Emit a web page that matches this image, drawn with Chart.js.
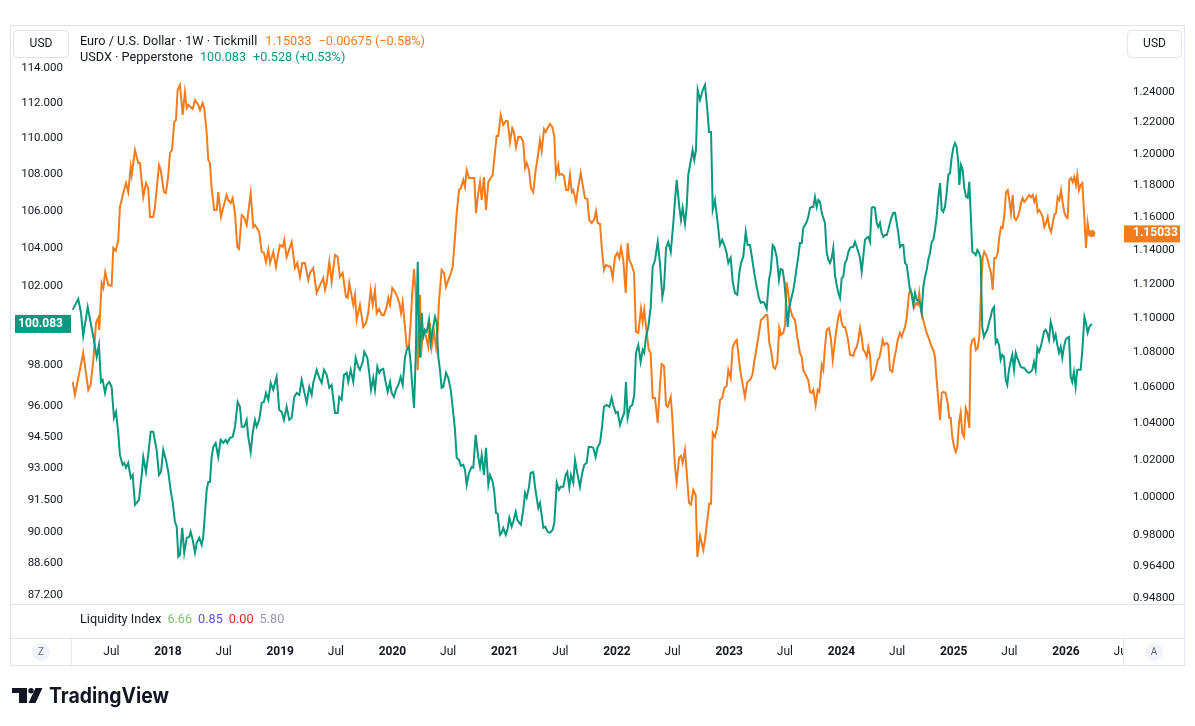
<!DOCTYPE html>
<html>
<head>
<meta charset="utf-8">
<script src="https://cdn.jsdelivr.net/npm/chart.js@4.4.1/dist/chart.umd.min.js"></script>
<style>
  html, body { margin: 0; padding: 0; background: #ffffff; }
  #wrap { position: relative; width: 1195px; height: 726px; }
</style>
</head>
<body>
<div id="wrap"><canvas id="chart" width="1195" height="726"></canvas></div>
<script>
// weekly closes: [decimal year, price]
const eurusd = [
  [2017.151,1.0632],[2017.171,1.0558],[2017.245,1.0796],[2017.29,1.0586],[2017.311,1.0614],[2017.335,1.0756],[2017.359,1.0970],[2017.379,1.0999],[2017.388,1.0929],[2017.409,1.1204],
  [2017.424,1.1175],[2017.441,1.1270],[2017.468,1.1193],[2017.498,1.1187],[2017.513,1.1415],[2017.534,1.1397],[2017.557,1.1463],[2017.572,1.1665],[2017.602,1.1752],[2017.626,1.1815],
  [2017.646,1.1758],[2017.668,1.1916],[2017.677,1.1866],[2017.706,1.2024],[2017.735,1.1941],[2017.75,1.1941],[2017.78,1.1727],[2017.804,1.1815],[2017.824,1.1783],[2017.84,1.1604],
  [2017.869,1.1604],[2017.884,1.1665],[2017.92,1.1928],[2017.935,1.1897],[2017.964,1.1758],[2017.982,1.1752],[2018.003,1.1866],[2018.018,1.2005],[2018.036,1.2024],[2018.056,1.2204],
  [2018.071,1.2217],[2018.086,1.2413],[2018.107,1.2446],[2018.131,1.2250],[2018.151,1.2400],[2018.167,1.2295],[2018.181,1.2315],[2018.22,1.2289],[2018.241,1.2347],[2018.27,1.2315],
  [2018.285,1.2282],[2018.309,1.2327],[2018.323,1.2295],[2018.345,1.2133],[2018.359,1.1960],[2018.374,1.1941],[2018.389,1.1783],[2018.412,1.1647],[2018.434,1.1647],[2018.448,1.1758],
  [2018.472,1.1604],[2018.493,1.1665],[2018.523,1.1740],[2018.537,1.1709],[2018.559,1.1690],[2018.576,1.1721],[2018.597,1.1628],[2018.617,1.1421],[2018.633,1.1409],[2018.657,1.1616],
  [2018.677,1.1604],[2018.701,1.1555],[2018.737,1.1752],[2018.76,1.1542],[2018.775,1.1555],[2018.813,1.1512],[2018.835,1.1391],[2018.855,1.1385],[2018.873,1.1330],[2018.894,1.1403],
  [2018.909,1.1324],[2018.938,1.1391],[2018.962,1.1300],[2018.983,1.1385],[2018.998,1.1433],[2019.022,1.1421],[2019.036,1.1463],[2019.057,1.1360],[2019.078,1.1403],[2019.102,1.1451],
  [2019.131,1.1294],[2019.152,1.1324],[2019.176,1.1240],[2019.196,1.1324],[2019.22,1.1324],[2019.25,1.1222],[2019.265,1.1264],[2019.294,1.1294],[2019.325,1.1145],[2019.354,1.1192],
  [2019.384,1.1234],[2019.399,1.1163],[2019.414,1.1204],[2019.437,1.1330],[2019.458,1.1210],[2019.488,1.1373],[2019.512,1.1360],[2019.532,1.1240],[2019.556,1.1264],[2019.586,1.1122],
  [2019.601,1.1116],[2019.615,1.1204],[2019.651,1.1075],[2019.666,1.1133],[2019.681,1.0987],[2019.71,1.1075],[2019.74,1.0946],[2019.764,1.0970],[2019.784,1.1027],[2019.806,1.1163],
  [2019.824,1.1075],[2019.844,1.1163],[2019.859,1.1027],[2019.88,1.1051],[2019.904,1.1016],[2019.924,1.1016],[2019.948,1.1063],[2019.963,1.1116],[2019.978,1.1075],[2019.998,1.1175],
  [2020.022,1.1151],[2020.043,1.1122],[2020.061,1.1086],[2020.076,1.1027],[2020.091,1.1092],[2020.111,1.0946],[2020.127,1.0830],[2020.147,1.0842],[2020.162,1.0970],[2020.176,1.1145],
  [2020.192,1.1288],[2020.207,1.1145],[2020.216,1.0888],[2020.225,1.0699],[2020.236,1.0946],[2020.245,1.1133],[2020.254,1.0773],[2020.269,1.0917],[2020.283,1.0929],[2020.299,1.0888],
  [2020.319,1.0830],[2020.334,1.0970],[2020.349,1.0830],[2020.37,1.0917],[2020.388,1.0830],[2020.403,1.0929],[2020.414,1.1092],[2020.438,1.1282],[2020.459,1.1264],[2020.477,1.1181],
  [2020.497,1.1222],[2020.521,1.1264],[2020.536,1.1300],[2020.557,1.1481],[2020.572,1.1628],[2020.593,1.1771],[2020.61,1.1783],[2020.631,1.1834],[2020.646,1.1790],[2020.661,1.1897],
  [2020.682,1.1847],[2020.706,1.1847],[2020.729,1.1847],[2020.744,1.1628],[2020.764,1.1752],[2020.78,1.1821],[2020.795,1.1709],[2020.815,1.1853],[2020.833,1.1647],[2020.854,1.1821],
  [2020.875,1.1847],[2020.893,1.1866],[2020.904,1.1948],[2020.928,1.2114],[2020.943,1.2114],[2020.964,1.2250],[2020.987,1.2185],[2021.009,1.2211],[2021.026,1.2211],[2021.047,1.2075],
  [2021.067,1.2165],[2021.082,1.2139],[2021.1,1.2043],[2021.121,1.2107],[2021.145,1.2107],[2021.165,1.2075],[2021.181,1.1910],[2021.196,1.1941],[2021.216,1.1897],[2021.234,1.1783],
  [2021.254,1.1758],[2021.276,1.1897],[2021.294,1.1979],[2021.314,1.2088],[2021.329,1.2018],[2021.35,1.2159],[2021.365,1.2139],[2021.383,1.2165],[2021.403,1.2191],[2021.424,1.2172],
  [2021.442,1.2107],[2021.457,1.1866],[2021.477,1.1928],[2021.486,1.1866],[2021.507,1.1872],[2021.528,1.1859],[2021.546,1.1771],[2021.566,1.1771],[2021.581,1.1866],[2021.597,1.1758],
  [2021.611,1.1771],[2021.635,1.1697],[2021.655,1.1790],[2021.677,1.1878],[2021.695,1.1802],[2021.715,1.1721],[2021.736,1.1715],[2021.753,1.1585],[2021.775,1.1567],[2021.798,1.1591],
  [2021.813,1.1641],[2021.828,1.1567],[2021.849,1.1561],[2021.864,1.1421],[2021.884,1.1282],[2021.902,1.1312],[2021.923,1.1306],[2021.944,1.1300],[2021.962,1.1234],[2021.982,1.1360],
  [2022.003,1.1385],[2022.021,1.1354],[2022.036,1.1415],[2022.056,1.1342],[2022.078,1.1145],[2022.095,1.1445],[2022.11,1.1342],[2022.131,1.1312],[2022.152,1.1264],[2022.169,1.0917],
  [2022.19,1.0911],[2022.214,1.1051],[2022.229,1.0975],[2022.243,1.1045],[2022.265,1.0911],[2022.283,1.0813],[2022.3,1.0796],[2022.318,1.0541],[2022.339,1.0541],[2022.363,1.0402],
  [2022.383,1.0614],[2022.398,1.0733],[2022.419,1.0722],[2022.437,1.0502],[2022.452,1.0491],[2022.479,1.0547],[2022.493,1.0430],[2022.517,1.0162],[2022.532,1.0081],[2022.553,1.0211],
  [2022.57,1.0222],[2022.585,1.0184],[2022.606,1.0254],[2022.621,1.0135],[2022.642,0.9970],[2022.659,0.9960],[2022.68,1.0039],[2022.701,1.0012],[2022.716,0.9688],[2022.74,0.9797],
  [2022.755,0.9760],[2022.769,0.9724],[2022.784,0.9776],[2022.805,0.9880],[2022.822,0.9965],[2022.838,0.9965],[2022.853,1.0347],[2022.873,1.0325],[2022.894,1.0380],[2022.918,1.0530],
  [2022.938,1.0541],[2022.956,1.0597],[2022.977,1.0608],[2022.992,1.0699],[2023.013,1.0653],[2023.031,1.0830],[2023.051,1.0859],[2023.067,1.0871],[2023.1,1.0688],[2023.14,1.0547],
  [2023.161,1.0631],[2023.185,1.0642],[2023.206,1.0670],[2023.223,1.0745],[2023.245,1.0830],[2023.265,1.0911],[2023.283,1.0987],[2023.304,1.0999],[2023.325,1.1016],[2023.339,1.1016],
  [2023.357,1.0854],[2023.372,1.0813],[2023.393,1.0716],[2023.408,1.0705],[2023.428,1.0739],[2023.446,1.0940],[2023.461,1.0900],[2023.482,1.0911],[2023.497,1.0958],[2023.512,1.1210],
  [2023.526,1.1145],[2023.541,1.1057],[2023.565,1.1004],[2023.586,1.0987],[2023.606,1.0888],[2023.63,1.0796],[2023.646,1.0773],[2023.66,1.0699],[2023.681,1.0670],[2023.704,1.0642],
  [2023.72,1.0575],[2023.735,1.0569],[2023.749,1.0586],[2023.77,1.0502],[2023.788,1.0586],[2023.802,1.0575],[2023.824,1.0727],[2023.838,1.0699],[2023.853,1.0830],[2023.868,1.0929],
  [2023.889,1.0940],[2023.907,1.0871],[2023.922,1.0756],[2023.936,1.0830],[2023.951,1.0911],[2023.972,1.1004],[2023.987,1.1033],[2024.002,1.0970],[2024.016,1.0946],[2024.031,1.0946],
  [2024.046,1.0911],[2024.061,1.0859],[2024.076,1.0784],[2024.091,1.0784],[2024.105,1.0779],[2024.12,1.0813],[2024.136,1.0830],[2024.15,1.0871],[2024.165,1.0940],[2024.18,1.0888],
  [2024.194,1.0813],[2024.209,1.0802],[2024.225,1.0773],[2024.239,1.0830],[2024.254,1.0784],[2024.269,1.0642],[2024.283,1.0653],[2024.305,1.0699],[2024.323,1.0756],[2024.337,1.0767],
  [2024.352,1.0813],[2024.367,1.0871],[2024.382,1.0842],[2024.403,1.0854],[2024.417,1.0842],[2024.432,1.0699],[2024.453,1.0688],[2024.468,1.0756],[2024.486,1.0813],[2024.501,1.0871],
  [2024.521,1.0911],[2024.536,1.0888],[2024.551,1.0917],[2024.566,1.0946],[2024.581,1.0999],[2024.602,1.1145],[2024.617,1.1163],[2024.634,1.1104],[2024.649,1.1063],[2024.664,1.1086],
  [2024.679,1.1075],[2024.693,1.1145],[2024.708,1.1045],[2024.724,1.0999],[2024.744,1.0946],[2024.759,1.0911],[2024.773,1.0888],[2024.789,1.0859],[2024.804,1.0830],[2024.818,1.0813],
  [2024.833,1.0773],[2024.848,1.0642],[2024.863,1.0530],[2024.878,1.0419],[2024.893,1.0569],[2024.907,1.0575],[2024.928,1.0569],[2024.946,1.0513],[2024.961,1.0430],[2024.973,1.0430],
  [2024.987,1.0325],[2025.005,1.0265],[2025.018,1.0243],[2025.032,1.0270],[2025.047,1.0402],[2025.062,1.0458],[2025.076,1.0347],[2025.092,1.0325],[2025.107,1.0485],[2025.121,1.0458],
  [2025.139,1.0375],[2025.151,1.0830],[2025.166,1.0871],[2025.183,1.0877],[2025.198,1.0813],[2025.214,1.0825],[2025.228,1.0888],[2025.243,1.1163],[2025.258,1.1354],[2025.272,1.1391],
  [2025.288,1.1373],[2025.303,1.1342],[2025.317,1.1300],[2025.332,1.1264],[2025.347,1.1163],[2025.362,1.1354],[2025.377,1.1354],[2025.392,1.1385],[2025.406,1.1481],[2025.421,1.1542],
  [2025.436,1.1536],[2025.451,1.1616],[2025.466,1.1758],[2025.481,1.1771],[2025.495,1.1709],[2025.51,1.1628],[2025.525,1.1740],[2025.54,1.1597],[2025.555,1.1585],[2025.57,1.1604],
  [2025.584,1.1634],[2025.599,1.1690],[2025.614,1.1721],[2025.629,1.1697],[2025.644,1.1709],[2025.659,1.1727],[2025.673,1.1740],[2025.688,1.1727],[2025.704,1.1740],[2025.718,1.1697],
  [2025.733,1.1727],[2025.748,1.1634],[2025.762,1.1647],[2025.778,1.1628],[2025.793,1.1604],[2025.807,1.1542],[2025.822,1.1567],[2025.837,1.1604],[2025.851,1.1542],[2025.867,1.1512],
  [2025.882,1.1567],[2025.896,1.1616],[2025.911,1.1628],[2025.926,1.1727],[2025.941,1.1709],[2025.956,1.1771],[2025.971,1.1690],[2025.985,1.1634],[2026.0,1.1604],[2026.015,1.1597],
  [2026.03,1.1834],[2026.045,1.1847],[2026.06,1.1821],[2026.074,1.1853],[2026.089,1.1802],[2026.101,1.1866],[2026.116,1.1771],[2026.131,1.1802],[2026.146,1.1815],[2026.164,1.1597],
  [2026.178,1.1415],[2026.193,1.1567],[2026.208,1.1494],[2026.23,1.15033]
];

const usdx = [
  [2017.151,100.80],[2017.201,101.36],[2017.225,100.65],[2017.245,99.48],[2017.285,100.95],[2017.311,100.14],[2017.335,99.42],[2017.35,98.92],[2017.365,98.42],[2017.385,99.02],
  [2017.403,97.17],[2017.418,97.27],[2017.439,96.63],[2017.454,97.02],[2017.477,97.17],[2017.498,96.93],[2017.519,95.41],[2017.537,95.70],[2017.557,94.69],[2017.572,93.63],
  [2017.596,93.16],[2017.61,93.25],[2017.626,93.02],[2017.646,93.25],[2017.668,92.54],[2017.686,92.68],[2017.706,91.28],[2017.721,91.37],[2017.742,91.51],[2017.766,92.68],
  [2017.78,93.53],[2017.804,92.82],[2017.824,93.63],[2017.846,94.74],[2017.869,94.74],[2017.899,93.87],[2017.92,92.68],[2017.938,92.82],[2017.958,93.87],[2017.982,93.39],
  [2018.003,92.82],[2018.027,91.84],[2018.042,91.42],[2018.062,90.50],[2018.078,90.27],[2018.092,88.90],[2018.107,88.99],[2018.127,90.22],[2018.145,89.08],[2018.167,89.76],
  [2018.19,89.81],[2018.202,90.04],[2018.22,89.67],[2018.241,89.08],[2018.256,89.53],[2018.279,89.76],[2018.3,89.44],[2018.314,89.81],[2018.33,90.91],[2018.345,91.98],
  [2018.359,92.35],[2018.374,92.35],[2018.389,93.53],[2018.404,94.01],[2018.425,94.20],[2018.448,93.53],[2018.469,94.35],[2018.493,94.20],[2018.514,94.35],[2018.528,94.20],
  [2018.552,94.45],[2018.576,94.49],[2018.597,94.98],[2018.621,96.19],[2018.641,95.95],[2018.657,94.98],[2018.68,94.98],[2018.701,95.31],[2018.715,94.49],[2018.737,93.77],
  [2018.755,94.69],[2018.775,95.31],[2018.79,94.98],[2018.813,95.31],[2018.835,96.14],[2018.855,96.19],[2018.873,96.63],[2018.894,96.29],[2018.915,97.12],[2018.938,96.78],
  [2018.968,97.42],[2018.991,95.80],[2019.013,95.70],[2019.033,95.31],[2019.057,95.95],[2019.081,95.31],[2019.102,95.41],[2019.125,96.43],[2019.147,96.63],[2019.17,96.53],
  [2019.191,97.27],[2019.214,96.68],[2019.236,96.14],[2019.259,96.93],[2019.28,96.53],[2019.294,97.12],[2019.325,97.77],[2019.348,97.37],[2019.369,97.12],[2019.39,97.77],
  [2019.414,97.52],[2019.437,96.88],[2019.458,97.02],[2019.488,95.65],[2019.512,95.65],[2019.526,96.43],[2019.547,96.29],[2019.568,97.52],[2019.592,97.62],[2019.606,97.17],
  [2019.628,97.77],[2019.651,97.17],[2019.672,98.37],[2019.695,97.92],[2019.71,97.77],[2019.735,98.17],[2019.749,98.67],[2019.776,98.37],[2019.793,97.62],[2019.809,96.78],
  [2019.829,97.37],[2019.844,96.78],[2019.865,97.92],[2019.882,97.62],[2019.898,97.77],[2019.918,97.82],[2019.939,97.17],[2019.957,96.68],[2019.978,97.17],[2019.993,96.63],
  [2020.013,96.43],[2020.031,96.78],[2020.052,97.02],[2020.073,97.42],[2020.091,97.02],[2020.111,98.37],[2020.127,98.77],[2020.147,98.92],[2020.162,98.12],[2020.176,97.02],
  [2020.192,95.90],[2020.207,98.42],[2020.225,103.29],[2020.236,100.14],[2020.245,98.37],[2020.26,100.65],[2020.274,99.42],[2020.29,99.78],[2020.305,99.68],[2020.325,100.29],
  [2020.34,99.12],[2020.358,99.78],[2020.379,100.44],[2020.394,100.14],[2020.408,98.42],[2020.423,97.77],[2020.438,96.88],[2020.453,96.93],[2020.477,97.62],[2020.497,97.37],
  [2020.519,96.78],[2020.536,95.95],[2020.557,94.83],[2020.572,93.49],[2020.593,93.39],[2020.61,93.11],[2020.631,93.16],[2020.646,92.92],[2020.661,92.22],[2020.682,92.78],
  [2020.706,93.06],[2020.72,93.02],[2020.741,94.59],[2020.764,93.53],[2020.78,93.06],[2020.795,93.63],[2020.815,92.68],[2020.833,93.97],[2020.854,92.22],[2020.869,92.68],
  [2020.893,92.35],[2020.907,91.89],[2020.922,90.91],[2020.937,90.87],[2020.958,89.90],[2020.973,89.99],[2020.987,90.22],[2021.009,89.90],[2021.026,90.18],[2021.041,90.68],
  [2021.062,90.27],[2021.076,90.50],[2021.098,90.96],[2021.112,90.59],[2021.13,90.45],[2021.145,90.36],[2021.165,91.05],[2021.181,91.84],[2021.196,91.61],[2021.216,92.12],
  [2021.231,92.78],[2021.254,92.82],[2021.276,91.89],[2021.299,91.14],[2021.314,91.37],[2021.329,90.82],[2021.344,90.22],[2021.36,90.27],[2021.383,90.04],[2021.403,89.99],
  [2021.427,90.13],[2021.442,90.45],[2021.463,92.31],[2021.483,91.98],[2021.499,92.12],[2021.522,92.12],[2021.543,92.68],[2021.557,92.82],[2021.575,92.08],[2021.59,92.68],
  [2021.611,92.31],[2021.626,93.39],[2021.646,92.78],[2021.67,92.12],[2021.691,92.78],[2021.709,93.16],[2021.73,93.25],[2021.748,94.01],[2021.768,94.01],[2021.789,93.97],
  [2021.81,93.53],[2021.828,94.01],[2021.849,94.20],[2021.869,95.07],[2021.884,95.95],[2021.908,96.04],[2021.932,95.95],[2021.953,96.39],[2021.967,96.04],[2021.989,95.65],
  [2022.006,95.70],[2022.027,95.07],[2022.047,95.41],[2022.065,95.65],[2022.08,97.17],[2022.095,95.41],[2022.116,95.95],[2022.136,96.04],[2022.154,96.53],[2022.169,98.62],
  [2022.19,99.02],[2022.211,98.17],[2022.229,98.77],[2022.243,98.62],[2022.258,99.42],[2022.279,99.93],[2022.3,100.90],[2022.318,103.03],[2022.339,103.39],[2022.363,104.35],
  [2022.383,103.23],[2022.404,101.46],[2022.419,101.93],[2022.437,104.03],[2022.457,104.35],[2022.479,103.81],[2022.502,105.36],[2022.517,106.60],[2022.532,107.69],[2022.555,106.22],
  [2022.57,105.52],[2022.585,106.17],[2022.606,105.31],[2022.621,106.22],[2022.635,107.96],[2022.659,108.79],[2022.674,109.34],[2022.689,108.79],[2022.704,109.34],[2022.719,112.73],
  [2022.74,112.16],[2022.764,112.73],[2022.784,113.02],[2022.805,111.59],[2022.82,110.35],[2022.838,110.35],[2022.853,106.06],[2022.873,106.60],[2022.894,105.52],[2022.918,104.18],
  [2022.938,104.45],[2022.956,104.18],[2022.977,103.76],[2022.992,103.23],[2023.013,103.50],[2023.031,102.25],[2023.051,101.67],[2023.072,101.57],[2023.09,102.71],[2023.105,103.23],
  [2023.125,103.55],[2023.147,104.87],[2023.164,104.18],[2023.185,104.18],[2023.206,103.39],[2023.223,102.71],[2023.245,101.98],[2023.265,101.41],[2023.28,101.16],[2023.295,101.21],
  [2023.312,101.16],[2023.334,100.85],[2023.354,102.35],[2023.369,102.77],[2023.387,104.18],[2023.401,104.08],[2023.423,103.55],[2023.443,102.35],[2023.458,102.92],[2023.476,102.87],
  [2023.491,102.25],[2023.506,101.21],[2023.521,99.93],[2023.535,100.95],[2023.55,101.31],[2023.571,101.83],[2023.586,102.35],[2023.601,103.03],[2023.615,103.55],[2023.63,104.29],
  [2023.646,104.29],[2023.66,105.09],[2023.675,105.25],[2023.69,105.41],[2023.704,105.68],[2023.72,106.17],[2023.735,106.22],[2023.749,106.22],[2023.764,106.76],[2023.779,106.22],
  [2023.794,106.60],[2023.809,106.49],[2023.824,105.90],[2023.838,105.63],[2023.853,105.36],[2023.868,103.81],[2023.883,103.39],[2023.898,103.23],[2023.913,103.50],[2023.927,104.03],
  [2023.942,102.61],[2023.957,102.09],[2023.972,101.67],[2023.987,101.41],[2024.002,102.45],[2024.016,102.51],[2024.031,103.23],[2024.046,103.39],[2024.061,103.81],[2024.076,104.03],
  [2024.091,104.08],[2024.105,104.08],[2024.12,104.35],[2024.136,104.08],[2024.15,103.81],[2024.165,103.50],[2024.18,102.77],[2024.194,103.55],[2024.209,104.45],[2024.225,104.56],
  [2024.239,104.61],[2024.254,104.35],[2024.269,106.17],[2024.283,106.22],[2024.298,106.17],[2024.314,105.36],[2024.328,105.14],[2024.343,105.36],[2024.358,104.82],[2024.373,104.61],
  [2024.388,104.71],[2024.403,104.71],[2024.417,104.98],[2024.432,105.36],[2024.447,105.68],[2024.462,105.90],[2024.477,105.90],[2024.492,105.36],[2024.506,104.82],[2024.521,104.08],
  [2024.536,104.18],[2024.551,104.18],[2024.566,103.23],[2024.581,103.13],[2024.595,102.51],[2024.61,101.83],[2024.625,101.67],[2024.64,101.06],[2024.655,101.67],[2024.67,101.31],
  [2024.684,101.31],[2024.699,101.16],[2024.714,100.65],[2024.729,101.98],[2024.744,102.51],[2024.759,102.87],[2024.773,103.39],[2024.789,103.76],[2024.804,104.35],[2024.818,104.45],
  [2024.833,104.98],[2024.848,105.68],[2024.863,106.76],[2024.878,107.52],[2024.893,106.06],[2024.907,105.95],[2024.922,106.22],[2024.937,106.98],[2024.952,107.96],[2024.967,108.07],
  [2024.982,108.95],[2024.996,109.45],[2025.011,109.73],[2025.026,109.51],[2025.041,108.62],[2025.05,107.41],[2025.065,108.51],[2025.08,108.24],[2025.094,107.25],[2025.11,106.76],
  [2025.125,106.71],[2025.139,107.58],[2025.151,105.90],[2025.166,103.81],[2025.181,103.76],[2025.196,103.65],[2025.21,103.92],[2025.225,103.76],[2025.24,103.50],[2025.254,99.93],
  [2025.269,99.42],[2025.285,99.63],[2025.299,99.78],[2025.314,100.14],[2025.329,100.44],[2025.343,100.80],[2025.359,100.95],[2025.374,99.12],[2025.388,99.27],[2025.403,99.02],
  [2025.418,98.27],[2025.433,98.52],[2025.448,98.42],[2025.463,97.27],[2025.477,97.02],[2025.492,97.77],[2025.507,98.17],[2025.522,98.52],[2025.537,97.77],[2025.552,98.62],
  [2025.566,98.37],[2025.581,98.17],[2025.597,97.92],[2025.611,97.87],[2025.626,97.87],[2025.641,97.77],[2025.655,97.67],[2025.671,97.62],[2025.686,97.67],[2025.7,97.77],
  [2025.715,98.17],[2025.73,97.77],[2025.745,98.87],[2025.76,98.67],[2025.775,98.92],[2025.789,99.27],[2025.804,99.68],[2025.819,99.78],[2025.833,99.63],[2025.849,99.27],
  [2025.864,100.19],[2025.878,99.88],[2025.893,99.27],[2025.908,99.53],[2025.923,99.02],[2025.938,98.62],[2025.953,98.92],[2025.967,98.37],[2025.982,98.92],[2025.997,99.27],
  [2026.011,99.37],[2026.027,99.42],[2026.042,97.42],[2026.056,97.17],[2026.071,97.67],[2026.086,96.93],[2026.1,97.77],[2026.116,97.77],[2026.131,97.77],[2026.146,98.77],
  [2026.164,100.44],[2026.178,100.14],[2026.193,99.63],[2026.208,99.93],[2026.23,100.083]
];

const usdxTicks = [114, 112, 110, 108, 106, 104, 102, 100, 98, 96, 94.5, 93, 91.5, 90, 88.6, 87.2];
const eurTicks = [1.24, 1.22, 1.20, 1.18, 1.16, 1.14, 1.12, 1.10, 1.08, 1.06, 1.04, 1.02, 1.00, 0.98, 0.964, 0.948];
const timeTicks = [2017.496, 2018, 2018.496, 2019, 2019.496, 2020, 2020.496, 2021, 2021.496, 2022, 2022.496, 2023, 2023.496, 2024, 2024.496, 2025, 2025.496, 2026, 2026.496];
const liquidity = [6.66, 0.85, 0.00, 5.80];

const FONT = 'Roboto, "Noto Sans", sans-serif';
const TEXT = '#131722';
const LINE = '#e0e3eb';
const ORANGE = '#f57c1c';
const TEAL = '#089981';

function txt(ctx, s, x, y, color, font, align) {
  ctx.fillStyle = color;
  ctx.font = font;
  ctx.textAlign = align || 'left';
  ctx.textBaseline = 'middle';
  ctx.fillText(s, x, y);
  return x + ctx.measureText(s).width;
}

function roundBox(ctx, x, y, w, h, r, fill, stroke) {
  ctx.beginPath();
  ctx.roundRect(x, y, w, h, r);
  if (fill) { ctx.fillStyle = fill; ctx.fill(); }
  if (stroke) { ctx.strokeStyle = stroke; ctx.lineWidth = 1; ctx.stroke(); }
}

const paneDecor = {
  id: 'paneDecor',
  afterDraw(chart) {
    const ctx = chart.ctx;
    const yL = chart.scales.yL, yR = chart.scales.yR;
    ctx.save();

    // hide the half label past the price scale
    ctx.fillStyle = '#ffffff';
    ctx.fillRect(1124, 639, 60, 26);

    // frame and pane separators
    ctx.strokeStyle = LINE;
    ctx.lineWidth = 1;
    ctx.strokeRect(10.5, 25.5, 1174, 640);
    ctx.beginPath();
    ctx.moveTo(10, 604.5); ctx.lineTo(1185, 604.5);
    ctx.moveTo(10, 638.5); ctx.lineTo(1185, 638.5);
    ctx.moveTo(71.5, 638); ctx.lineTo(71.5, 665);
    ctx.moveTo(1123.5, 638); ctx.lineTo(1123.5, 665);
    ctx.stroke();

    // currency buttons
    roundBox(ctx, 13.5, 30.5, 55, 27, 4, '#ffffff', LINE);
    txt(ctx, 'USD', 41, 44, TEXT, '12px ' + FONT, 'center');
    roundBox(ctx, 1127.5, 30.5, 54, 27, 4, '#ffffff', LINE);
    txt(ctx, 'USD', 1154.5, 44, TEXT, '12px ' + FONT, 'center');

    // last value labels
    const lastD = usdx[usdx.length - 1][1];
    const lastE = eurusd[eurusd.length - 1][1];
    const pyL = yL.getPixelForValue(lastD);
    ctx.fillStyle = TEAL;
    ctx.fillRect(15, pyL - 9, 56, 18);
    txt(ctx, lastD.toFixed(3), 63, pyL, '#ffffff', 'bold 12px ' + FONT, 'right');
    const pyR = yR.getPixelForValue(lastE);
    ctx.fillStyle = ORANGE;
    ctx.fillRect(1124, pyR - 8, 56, 17);
    txt(ctx, lastE.toFixed(5), 1133, pyR, '#ffffff', 'bold 12px ' + FONT, 'left');

    // legend
    const lf = '12.7px ' + FONT;
    let x = txt(ctx, 'Euro / U.S. Dollar · 1W · Tickmill', 80, 42, TEXT, lf);
    x = txt(ctx, lastE.toFixed(5), x + 8, 42, ORANGE, lf);
    txt(ctx, '−0.00675 (−0.58%)', x + 7, 42, ORANGE, lf);
    x = txt(ctx, 'USDX · Pepperstone', 80, 58, TEXT, lf);
    x = txt(ctx, lastD.toFixed(3), x + 7, 58, TEAL, lf);
    txt(ctx, '+0.528 (+0.53%)', x + 7, 58, TEAL, lf);

    // liquidity pane legend
    const liqColors = ['#7fc36b', '#5b52dc', '#e0262b', '#9b97b0'];
    x = txt(ctx, 'Liquidity Index', 80, 620, TEXT, lf);
    liquidity.forEach((v, i) => {
      x = txt(ctx, v.toFixed(2), x + 6, 620, liqColors[i], lf);
    });

    // Z / A buttons
    [[41, 'Z'], [1154, 'A']].forEach(([cx, s]) => {
      ctx.beginPath();
      ctx.arc(cx, 652, 9, 0, Math.PI * 2);
      ctx.fillStyle = '#f0f3fa';
      ctx.fill();
      txt(ctx, s, cx, 652.5, '#6a6d78', '10px ' + FONT, 'center');
    });

    // TradingView logo
    ctx.fillStyle = TEXT;
    ctx.fillRect(12, 688, 15, 5);
    ctx.fillRect(19, 688, 8, 15);
    ctx.beginPath();
    ctx.arc(31, 690.7, 2.7, 0, Math.PI * 2);
    ctx.fill();
    ctx.beginPath();
    ctx.moveTo(35.5, 688); ctx.lineTo(42.5, 688); ctx.lineTo(35.5, 703); ctx.lineTo(28.5, 703);
    ctx.closePath();
    ctx.fill();
    ctx.font = 'bold 21px Inter, ' + FONT;
    ctx.textAlign = 'left';
    ctx.textBaseline = 'alphabetic';
    const w = ctx.measureText('TradingView').width;
    ctx.save();
    ctx.translate(49, 703);
    ctx.scale(120 / w, 1);
    ctx.fillText('TradingView', 0, 0);
    ctx.restore();

    ctx.restore();
  }
};

new Chart(document.getElementById('chart'), {
  type: 'line',
  data: {
    datasets: [
      {
        label: 'USDX · Pepperstone',
        data: usdx.map(p => ({ x: p[0], y: p[1] })),
        yAxisID: 'yL',
        borderColor: TEAL,
        borderWidth: 2,
        pointRadius: 0,
        tension: 0,
        order: 0
      },
      {
        label: 'Euro / U.S. Dollar',
        data: eurusd.map(p => ({ x: p[0], y: p[1] })),
        yAxisID: 'yR',
        borderColor: ORANGE,
        borderWidth: 2,
        pointRadius: c => c.dataIndex === eurusd.length - 1 ? 3.5 : 0,
        pointBackgroundColor: ORANGE,
        pointBorderWidth: 0,
        tension: 0,
        order: 1
      }
    ]
  },
  options: {
    responsive: false,
    animation: false,
    layout: { padding: { left: 10, right: 10, top: 26, bottom: 0 } },
    plugins: { legend: { display: false }, tooltip: { enabled: false } },
    scales: {
      x: {
        type: 'linear',
        bounds: 'data',
        min: 2017.145,
        max: 2026.508,
        grid: { display: false, drawTicks: false },
        border: { display: false },
        afterBuildTicks: s => { s.ticks = timeTicks.map(v => ({ value: v })); },
        afterFit: s => { s.height = 122; },
        ticks: {
          autoSkip: false,
          maxRotation: 0,
          padding: 41,
          color: TEXT,
          font: c => ({ family: FONT, size: 12, weight: (c.tick && Number.isInteger(c.tick.value)) ? 'bold' : 'normal' }),
          callback: v => Number.isInteger(v) ? String(v) : 'Jul'
        }
      },
      yL: {
        type: 'logarithmic',
        position: 'left',
        bounds: 'data',
        min: 86.79,
        max: 116.46,
        grid: { display: false, drawTicks: false },
        border: { display: false },
        afterBuildTicks: s => { s.ticks = usdxTicks.map(v => ({ value: v })); },
        afterFit: s => { s.width = 62; },
        ticks: {
          autoSkip: false,
          padding: 9,
          color: TEXT,
          font: { family: FONT, size: 11.5 },
          callback: v => Number(v).toFixed(3)
        }
      },
      yR: {
        type: 'logarithmic',
        position: 'right',
        bounds: 'data',
        min: 0.9449,
        max: 1.2842,
        grid: { display: false, drawTicks: false },
        border: { display: false },
        afterBuildTicks: s => { s.ticks = eurTicks.map(v => ({ value: v })); },
        afterFit: s => { s.width = 62; },
        ticks: {
          autoSkip: false,
          padding: 10,
          color: TEXT,
          font: { family: FONT, size: 11.5 },
          callback: v => Number(v).toFixed(5)
        }
      }
    }
  },
  plugins: [paneDecor]
});
</script>
</body>
</html>
